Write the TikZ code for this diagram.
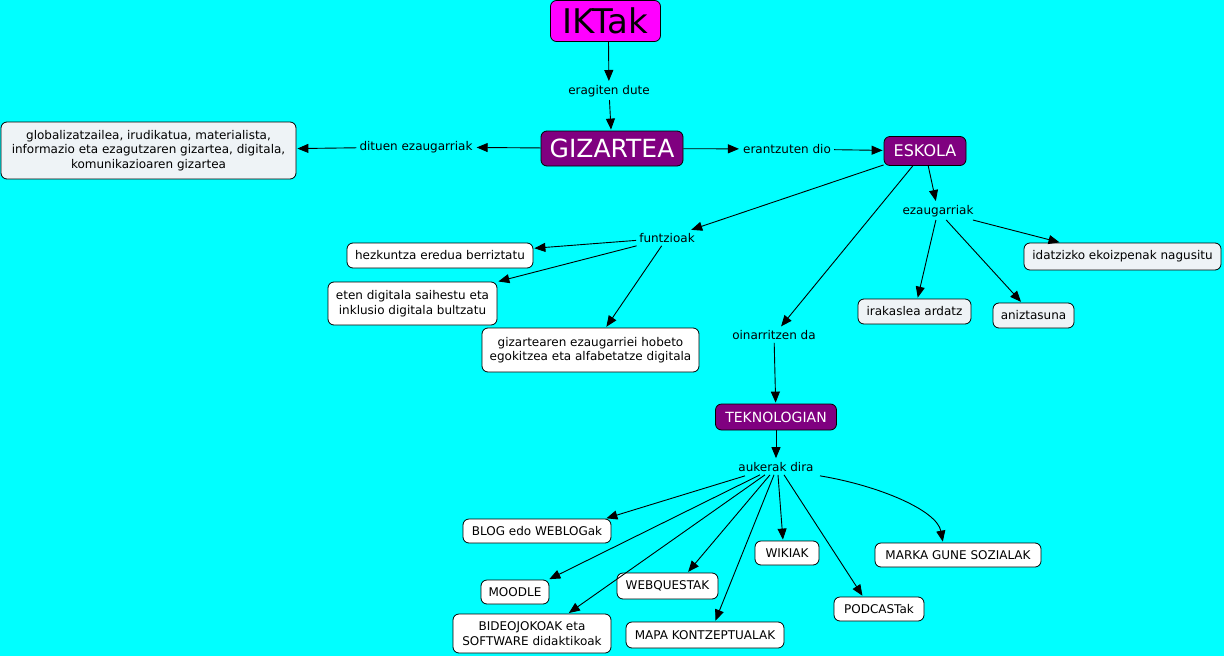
\documentclass[tikz,border=0pt]{standalone}
\usepackage{fontspec}
\setmainfont{DejaVu Sans}
\usetikzlibrary{arrows.meta}
\definecolor{bgc}{HTML}{00FFFF}
\definecolor{magc}{HTML}{FF00FF}
\definecolor{purc}{HTML}{800080}
\definecolor{lgc}{HTML}{EEF3F6}
\tikzset{
  box/.style={draw=black, line width=0.8pt, rounded corners=6pt, fill=white, align=center, inner sep=0pt, font=\fontsize{12}{14.5}\selectfont},
  gbox/.style={box, fill=lgc},
  pbox/.style={box, fill=purc, text=white},
  lbl/.style={inner sep=3pt, font=\fontsize{12}{14.5}\selectfont},
  arr/.style={-{Triangle[length=11pt,width=9pt]}, line width=0.9pt, shorten >=1pt},
}
\begin{document}
\begin{tikzpicture}[x=1pt,y=-1pt]
\fill[bgc] (0,0) rectangle (1224,656);
\useasboundingbox (0,0) rectangle (1224,656);
% main nodes
\node[box, fill=magc, minimum width=110, minimum height=41, font=\fontsize{34}{36}\selectfont] (ikt) at (605.5,21) {IKTak};
\node[pbox, minimum width=142, minimum height=35, font=\fontsize{25}{28}\selectfont] (giz) at (612,148.5) {GIZARTEA};
\node[gbox, minimum width=295, minimum height=57] (left) at (148.5,150.5) {globalizatzailea, irudikatua, materialista,\\informazio eta ezagutzaren gizartea, digitala,\\komunikazioaren gizartea};
\node[pbox, minimum width=82, minimum height=29, font=\fontsize{16}{19}\selectfont] (esk) at (925,151) {ESKOLA};
\node[box, minimum width=186, minimum height=25] (hez) at (440,255.5) {hezkuntza eredua berriztatu};
\node[box, minimum width=169, minimum height=43] (eten) at (412.5,303.5) {eten digitala saihestu eta\\inklusio digitala bultzatu};
\node[box, minimum width=217, minimum height=44] (gizn) at (590.5,350) {gizartearen ezaugarriei hobeto\\egokitzea eta alfabetatze digitala};
\node[gbox, minimum width=197, minimum height=27] (ida) at (1122.5,256.5) {idatzizko ekoizpenak nagusitu};
\node[gbox, minimum width=113, minimum height=25] (ira) at (914.5,311.5) {irakaslea ardatz};
\node[gbox, minimum width=81, minimum height=25] (ani) at (1033.5,315.5) {aniztasuna};
\node[pbox, minimum width=121, minimum height=26, font=\fontsize{14}{16}\selectfont] (tek) at (776,417) {TEKNOLOGIAN};
\node[box, minimum width=148, minimum height=24] (blog) at (537,531) {BLOG edo WEBLOGak};
\node[box, minimum width=68, minimum height=24] (moo) at (515,592) {MOODLE};
\node[box, minimum width=158, minimum height=39] (bid) at (532,633.5) {BIDEOJOKOAK eta\\SOFTWARE didaktikoak};
\node[box, minimum width=101, minimum height=26] (webq) at (667.5,586) {WEBQUESTAK};
\node[box, minimum width=158, minimum height=26] (mapa) at (705,635) {MAPA KONTZEPTUALAK};
\node[box, minimum width=64, minimum height=24] (wiki) at (787,553) {WIKIAK};
\node[box, minimum width=90, minimum height=24] (pod) at (879,609) {PODCASTak};
\node[box, minimum width=166, minimum height=24] (mar) at (958,555) {MARKA GUNE SOZIALAK};
% linking phrases
\node[lbl] (erag) at (609,91) {eragiten dute};
\node[lbl] (dit) at (416,147) {dituen ezaugarriak};
\node[lbl] (era) at (787,149) {erantzuten dio};
\node[lbl] (fun) at (667,238) {funtzioak};
\node[lbl] (eza) at (938,211) {ezaugarriak};
\node[lbl] (oin) at (774,335) {oinarritzen da};
\node[lbl] (auk) at (776,467) {aukerak dira};
% connectors
\draw[arr] ([xshift=3pt]ikt.south) -- (erag);
\draw[arr] (erag) -- (giz);
\draw[arr] (giz) -- (dit);
\draw[arr] (dit) -- (left);
\draw[arr] (giz) -- (era);
\draw[arr] (era) -- (esk);
\draw[arr] (esk) -- (fun);
\draw[arr] (fun) -- (hez);
\draw[arr] (fun) -- (eten);
\draw[arr] (fun) -- (gizn);
\draw[arr] (esk) -- (eza);
\draw[arr] (eza) -- ([xshift=-62pt]ida.north);
\draw[arr] (eza) -- (ira);
\draw[arr] (eza) -- (ani);
\draw[arr] (esk) -- (oin);
\draw[arr] (oin) -- (tek);
\draw[arr] (tek) -- (auk);
\draw[arr] ([xshift=-31pt,yshift=-1pt]auk.south) -- ([xshift=-6pt]blog.north east);
\draw[arr] ([xshift=-16pt]auk.south) -- ([xshift=-1pt]moo.north east);
\draw[arr] ([xshift=-11pt]auk.south) -- ([xshift=36pt]bid.north);
\draw[arr] ([xshift=-6pt]auk.south) -- ([xshift=20pt]webq.north);
\draw[arr] ([xshift=-2pt]auk.south) -- ([xshift=10pt]mapa.north);
\draw[arr] ([xshift=2pt]auk.south) -- ([xshift=-4pt]wiki.north);
\draw[arr] ([xshift=8pt]auk.south) -- ([xshift=-16pt]pod.north);
\draw[arr] ([xshift=44pt,yshift=-1pt]auk.south) .. controls +(60,10) and +(-6,-32) .. ([xshift=-15pt]mar.north);
\end{tikzpicture}
\end{document}
